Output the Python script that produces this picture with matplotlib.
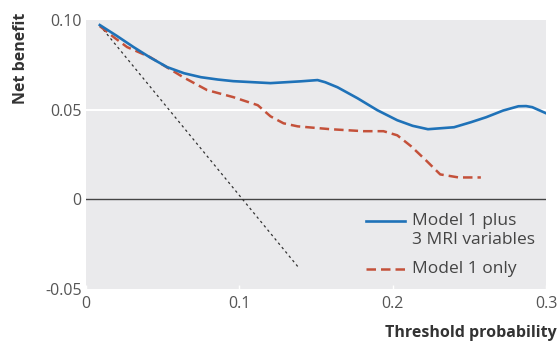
import numpy as np
import matplotlib.pyplot as plt
from matplotlib.lines import Line2D

plt.rcParams['font.family'] = ['Open Sans', 'DejaVu Sans']

# threshold probability vs net benefit
mri_x = [0.009, 0.020, 0.031, 0.042, 0.053, 0.064, 0.075, 0.086, 0.096, 0.1203,
         0.140, 0.151, 0.156, 0.164, 0.177, 0.190, 0.203, 0.213, 0.223, 0.240,
         0.251, 0.261, 0.272, 0.282, 0.287, 0.291, 0.300]
mri_y = [0.0972, 0.0912, 0.0849, 0.0790, 0.0737, 0.0703, 0.0681, 0.0668, 0.0659, 0.0648,
         0.0658, 0.0665, 0.0653, 0.0625, 0.0564, 0.0497, 0.0441, 0.0410, 0.0391, 0.0402,
         0.0430, 0.0458, 0.0495, 0.0519, 0.0520, 0.0514, 0.0480]

m1_x = [0.009, 0.018, 0.0268, 0.0418, 0.0634, 0.079, 0.096, 0.112, 0.1203, 0.1288,
        0.138, 0.1595, 0.181, 0.194, 0.203, 0.212, 0.222, 0.231, 0.243, 0.2575]
m1_y = [0.0966, 0.0905, 0.0849, 0.0793, 0.0681, 0.0609, 0.0570, 0.0525, 0.0463, 0.0424,
        0.0407, 0.0391, 0.0380, 0.0380, 0.0357, 0.0296, 0.0215, 0.0139, 0.0122, 0.0122]

all_x = [0.009, 0.1386]
all_y = [0.097, -0.038]

blue = '#1f72b8'
red = '#c4513a'
fs = 11.5

fig = plt.figure(figsize=(5.57, 3.42), dpi=100)
ax = fig.add_axes([0.1544, 0.155, 0.8259, 0.7865])
ax.set_facecolor('#eaeaec')
for s in ax.spines.values():
    s.set_visible(False)

ax.axhline(0.05, color='white', lw=1.5, zorder=1)
ax.axhline(0, color='#444444', lw=1.0, zorder=2)

ax.plot(all_x, all_y, color='#333333', lw=0.9, ls=(0, (2, 2.5)), zorder=3)
ax.plot(m1_x, m1_y, color=red, lw=1.8, ls=(0, (3.8, 2)), zorder=4)
ax.plot(mri_x, mri_y, color=blue, lw=1.9, zorder=5)

ax.set_xlim(0, 0.3)
ax.set_ylim(-0.05, 0.10)
ax.set_xticks([0, 0.1, 0.2, 0.3])
ax.set_xticklabels(['0', '0.1', '0.2', '0.3'])
ax.set_yticks([-0.05, 0, 0.05, 0.10])
ax.set_yticklabels(['-0.05', '0', '0.05', '0.10'])
ax.tick_params(axis='x', direction='in', length=3, width=1, color='white',
               labelsize=fs, labelcolor='#555555', pad=5)
ax.tick_params(axis='y', length=0, labelsize=fs, labelcolor='#555555', pad=3)

# legend, drawn by hand so the handle sits on the first text line
fig.add_artist(Line2D([0.657, 0.727], [0.3538, 0.3538], color=blue, lw=1.9))
fig.add_artist(Line2D([0.657, 0.727], [0.2135, 0.2135], color=red, lw=1.8,
                      ls=(0, (3.8, 2))))
fig.text(0.740, 0.3538, 'Model 1 plus', va='center', ha='left', fontsize=12.5, color='#444444')
fig.text(0.740, 0.298, '3 MRI variables', va='center', ha='left', fontsize=12.5, color='#444444')
fig.text(0.740, 0.2135, 'Model 1 only', va='center', ha='left', fontsize=12.5, color='#444444')

fig.text(0.037, 0.962, 'Net benefit', rotation=90, ha='center', va='top',
         fontsize=fs, fontweight='bold', color='#333333')
fig.text(0.999, 0.002, 'Threshold probability', ha='right', va='bottom',
         fontsize=fs, fontweight='bold', color='#333333')

fig.savefig('out.png', dpi=100, facecolor='white')
